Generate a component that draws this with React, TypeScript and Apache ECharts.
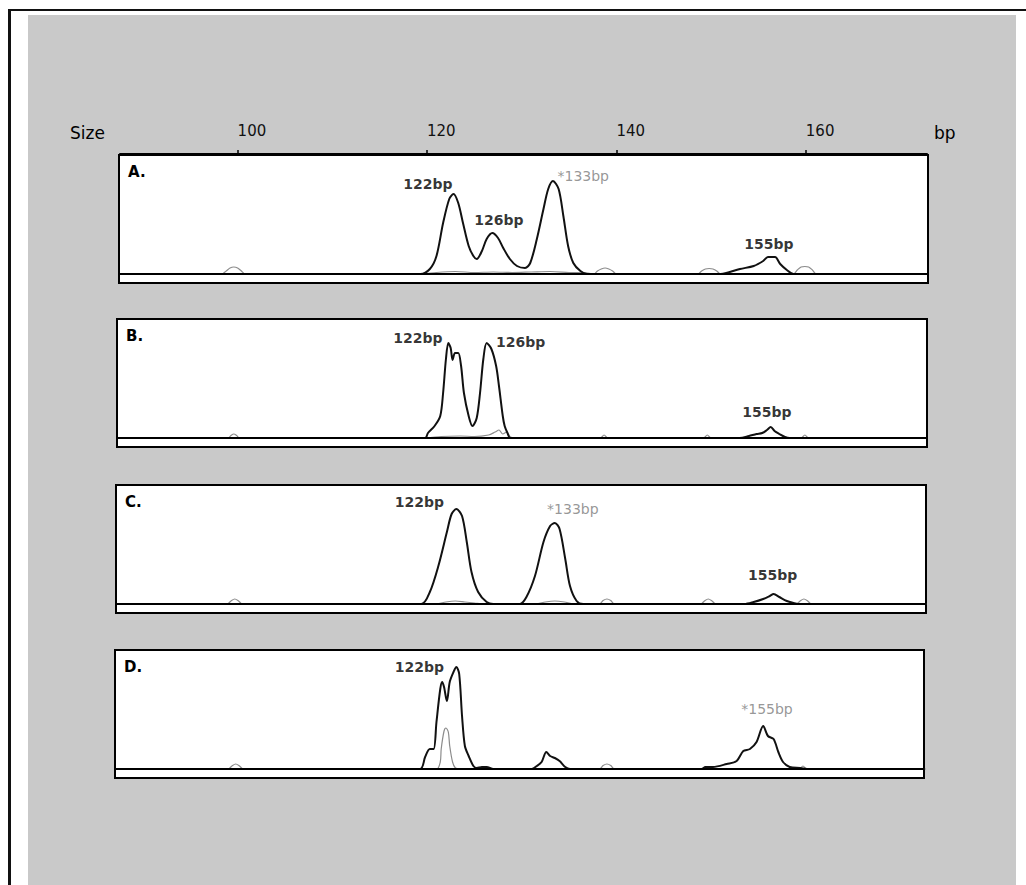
import React, { useEffect, useRef } from "react";
import * as echarts from "echarts";

// ---- data (bp, relative height) ----
const sizeTicks = [100, 120, 140, 160];
const panelNames = ["A.", "B.", "C.", "D."];

const traceA = [[87.6,0],[119.3,0],[120.3,5],[121.0,18],[121.7,51],[122.35,75],[122.8,80],[123.3,71],[123.8,51],[124.4,28],[124.9,18],[125.25,15],[125.8,23],[126.3,35],[126.9,41],[127.5,36],[128.05,26],[128.75,15],[129.5,8],[130.35,6],[130.9,11],[131.6,35],[132.3,65],[132.8,85],[133.3,93],[133.9,85],[134.4,58],[134.9,28],[135.45,11],[136.2,3],[136.9,0],[151.0,0],[151.6,1],[153.05,5],[154.5,8],[155.5,13],[156.0,17],[156.75,17],[157.3,10],[158.0,4],[158.7,0],[172.8,0]];
const standardA = [[87.6,0],[98.3,0],[98.8,3],[99.2,6],[99.6,7],[100.0,6],[100.4,3],[100.8,0],[119.5,0],[121,1.5],[123,2.5],[125,1.5],[127,2],[129,1.5],[131,2],[133,2.5],[135,1.5],[137,1],[137.6,0],[138.0,3],[138.4,5],[138.8,6],[139.2,5],[139.6,3],[140.0,0],[148.6,0],[149.0,3],[149.4,5],[149.8,5.5],[150.2,5],[150.6,3],[151.0,0],[158.7,0],[159.1,4],[159.5,7],[159.9,7.5],[160.3,7],[160.7,4],[161.1,0],[172.8,0]];
const labelsA = [["122bp",120.1,90],["126bp",127.6,54],["*133bp",136.5,98],["155bp",156.1,30]];

const traceB = [[87.6,0],[119.8,0],[120.1,5],[120.8,12],[121.4,22],[121.7,45],[122.0,79],[122.25,95],[122.5,90],[122.7,78],[122.96,85],[123.3,85],[123.6,72],[123.9,45],[124.4,22],[124.8,12],[125.25,20],[125.6,45],[125.95,79],[126.3,95],[126.8,89],[127.3,72],[127.6,52],[128.0,22],[128.2,12],[128.5,5],[128.8,0],[153.0,0],[154.0,2],[154.8,4],[155.4,5],[155.9,8],[156.3,11],[156.7,7],[157.2,4],[157.8,1],[158.3,0],[172.8,0]];
const standardB = [[87.6,0],[99.0,0],[99.3,2.5],[99.6,4],[99.9,2.5],[100.2,0],[120,0],[121.5,1.5],[123.5,2],[125,1.5],[126.5,3],[127.2,6],[127.6,8],[128.0,4],[128.4,6],[128.8,1],[129.5,0],[138.3,0],[138.7,3],[139.1,0],[149.2,0],[149.6,3],[150.0,0],[159.5,0],[159.9,3],[160.3,0],[172.8,0]];
const labelsB = [["122bp",119.05,100],["126bp",129.9,96],["155bp",155.9,26]];

const traceC = [[87.6,0],[119.4,0],[120.3,12],[121.2,38],[122.1,72],[122.6,90],[123.1,95],[123.7,88],[124.2,62],[124.7,32],[125.4,12],[126.3,2],[127.0,0],[129.8,0],[130.5,7],[131.4,28],[132.3,62],[133.0,78],[133.5,81],[134.0,75],[134.6,45],[135.1,18],[135.8,3],[136.5,0],[153.5,0],[154.5,2],[155.5,5],[156.2,8],[156.6,10],[157.2,7],[158.0,3],[158.7,1],[159.2,0],[172.8,0]];
const standardC = [[87.6,0],[98.9,0],[99.3,3],[99.7,5],[100.1,3],[100.5,0],[121.0,0],[122,2],[123,3],[124,2],[125,1],[126,0],[131.5,0],[132.5,2],[133.5,3],[134.5,2],[135.5,0],[138.2,0],[138.6,3.5],[139.0,5],[139.4,3.5],[139.8,0],[148.9,0],[149.3,3],[149.7,5],[150.1,3],[150.5,0],[159.0,0],[159.4,3],[159.8,5],[160.2,3],[160.6,0],[172.8,0]];
const labelsC = [["122bp",119.2,102],["*133bp",135.4,95],["155bp",156.5,29]];

const traceD = [[87.6,0],[119.25,0],[119.8,12],[120.3,20],[120.7,20],[121.0,47],[121.4,80],[121.6,87],[121.8,82],[122.1,68],[122.4,87],[122.8,97],[123.1,102],[123.4,95],[123.7,53],[124.0,23],[124.4,13],[124.9,3],[125.25,1],[125.8,2],[126.3,2],[127.0,0],[131.05,0],[131.6,3],[132.1,7],[132.6,17],[133.0,13],[133.5,11],[134.0,8],[134.6,2],[135.1,0],[149.0,0],[149.4,2],[150.2,2],[151.65,5],[152.7,8],[153.4,18],[154.1,20],[154.8,27],[155.5,43],[156.0,33],[156.6,30],[157.1,17],[157.6,7],[158.3,2],[159.4,1],[160.4,0],[172.8,0]];
const standardD = [[87.6,0],[99.0,0],[99.4,3],[99.8,5],[100.2,3],[100.6,0],[121.0,0],[121.4,7],[121.5,20],[121.8,38],[122.0,41],[122.25,37],[122.4,23],[122.7,7],[123.0,1],[123.4,0],[138.2,0],[138.6,3.5],[139.0,5],[139.4,3.5],[139.8,0],[159.3,0],[159.7,3],[160.1,0],[172.8,0]];
const labelsD = [["122bp",119.2,102],["*155bp",155.9,60]];

const traces = [traceA, traceB, traceC, traceD];
const standards = [standardA, standardB, standardC, standardD];
const peakLabels = [labelsA, labelsB, labelsC, labelsD];

// ---- layout ----
const W = 1026, H = 885;
const PX_PER_BP = 9.47;
const REF_PX = 427; // pixel of 120 bp
const REF_BP = 120;
const panels = [
  { left: 119, right: 928, top: 155 },
  { left: 117, right: 927, top: 319 },
  { left: 116, right: 926, top: 485 },
  { left: 115, right: 924, top: 650 },
];
const PANEL_H = 128;
const Y_MIN = -9, Y_MAX = 119;
const FONT = "DejaVu Sans";

const bpAt = (px: number) => REF_BP + (px - REF_PX) / PX_PER_BP;

export default function App() {
  const ref = useRef<HTMLDivElement>(null);
  useEffect(() => {
    if (!ref.current) return;
    const chart = echarts.init(ref.current, undefined, { renderer: "svg" });
    const grids: any[] = [];
    const xAxes: any[] = [];
    const yAxes: any[] = [];
    const series: any[] = [];
    const graphics: any[] = [];

    panels.forEach((p, i) => {
      grids.push({
        left: p.left, width: p.right - p.left, top: p.top, height: PANEL_H,
        show: true, backgroundColor: "#ffffff", borderColor: "#000", borderWidth: 2,
      });
      xAxes.push({ type: "value", gridIndex: i, min: bpAt(p.left), max: bpAt(p.right), show: false });
      yAxes.push({ type: "value", gridIndex: i, min: Y_MIN, max: Y_MAX, show: false });
      series.push({
        type: "line", xAxisIndex: i, yAxisIndex: i, data: standards[i], showSymbol: false,
        smooth: 0.3, lineStyle: { color: "#8c8c8c", width: 1.2 }, silent: true, z: 2,
      });
      series.push({
        type: "line", xAxisIndex: i, yAxisIndex: i, data: traces[i], showSymbol: false,
        smooth: 0.3, lineStyle: { color: "#111", width: 2 }, silent: true, z: 3,
        markLine: {
          silent: true, symbol: "none", label: { show: false },
          lineStyle: { color: "#000", width: 2, type: "solid" },
          data: [{ yAxis: 0 }],
        },
      });
      series.push({
        type: "scatter", xAxisIndex: i, yAxisIndex: i, symbolSize: 0, silent: true, z: 4,
        data: peakLabels[i].map((l: any) =>
          l[0].startsWith("*")
            ? { name: l[0], value: [l[1], l[2]], label: { color: "#7c7c7c", fontWeight: "normal", fontSize: 14 } }
            : { name: l[0], value: [l[1], l[2]] }
        ),
        label: {
          show: true, position: "inside", formatter: "{b}", fontFamily: FONT, fontSize: 14,
          fontWeight: "bold", color: "#000", textBorderWidth: 0,
        },
        labelLayout: { hideOverlap: false },
        itemStyle: { color: "transparent" },
      });
      graphics.push({
        type: "text", left: p.left + 9, top: p.top + 9,
        style: { text: panelNames[i], fontFamily: FONT, fontWeight: "bold", fontSize: 15, fill: "#000" },
      });
    });

    // top size axis
    const ti = panels.length;
    grids.push({ left: 120, width: 807, top: 144, height: 10, show: false });
    xAxes.push({
      type: "value", gridIndex: ti, position: "top", min: bpAt(120), max: bpAt(927),
      axisLine: { show: true, lineStyle: { color: "#000", width: 2 } },
      axisTick: { show: true, length: 4, inside: false, customValues: sizeTicks, lineStyle: { color: "#000", width: 1.5 } },
      axisLabel: { show: true, customValues: sizeTicks, align: "left", margin: 6, fontFamily: FONT, fontSize: 15, color: "#111" },
      splitLine: { show: false },
    });
    yAxes.push({ type: "value", gridIndex: ti, show: false, min: 0, max: 1 });
    series.push({ type: "line", xAxisIndex: ti, yAxisIndex: ti, data: [] });

    graphics.push({
      type: "text", left: 70, top: 124,
      style: { text: "Size", fontFamily: FONT, fontSize: 17, fill: "#000" },
    });
    graphics.push({
      type: "text", left: 934, top: 124,
      style: { text: "bp", fontFamily: FONT, fontSize: 17, fill: "#000" },
    });

    chart.setOption({
      animation: false,
      backgroundColor: "transparent",
      grid: grids,
      xAxis: xAxes,
      yAxis: yAxes,
      series,
      graphic: graphics,
    });
    return () => chart.dispose();
  }, []);

  return (
    <div style={{ position: "absolute", left: 0, top: 0, width: W, height: H, background: "#fff", overflow: "hidden" }}>
      <div style={{ position: "absolute", left: 28, top: 15, width: 988, height: H - 15, background: "#c9c9c9" }} />
      <div style={{ position: "absolute", left: 8, top: 9, width: W - 8, height: 2, background: "#111" }} />
      <div style={{ position: "absolute", left: 8, top: 9, width: 3, height: H - 9, background: "#111" }} />
      <div ref={ref} style={{ position: "absolute", left: 0, top: 0, width: W, height: H }} />
    </div>
  );
}
